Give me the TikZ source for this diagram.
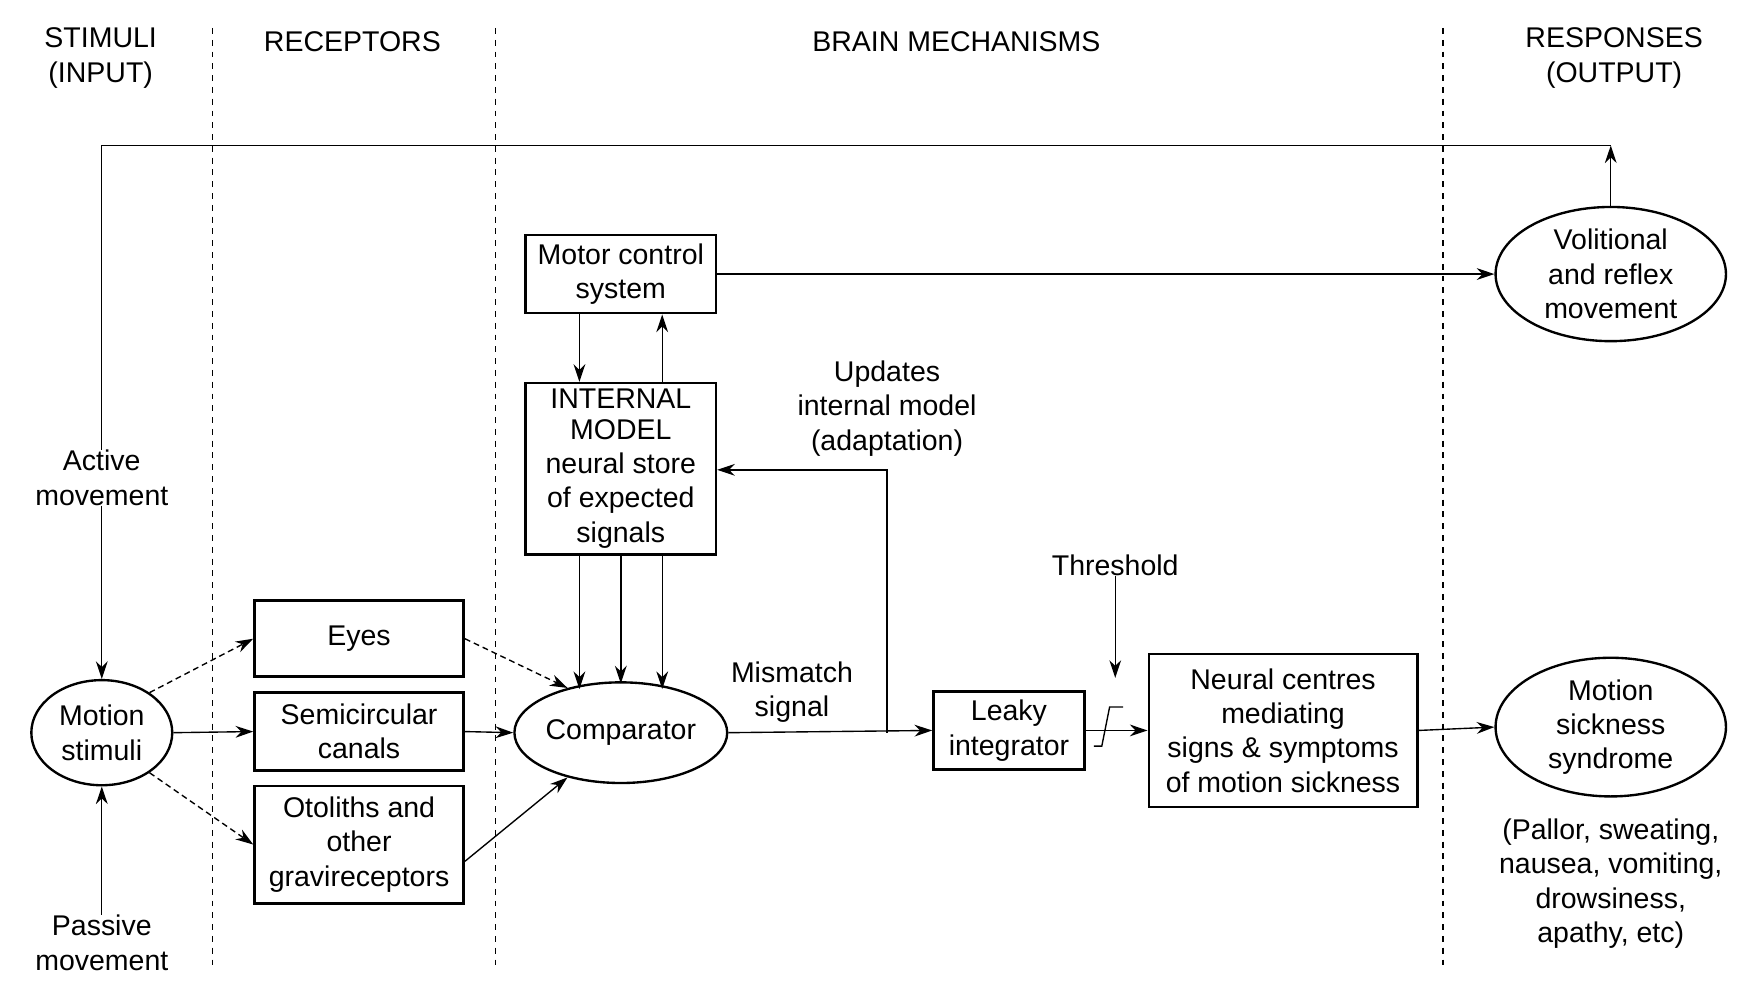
\documentclass[tikz,border=0pt]{standalone}
\usepackage{fontspec}
\setmainfont{Liberation Sans}
\usetikzlibrary{arrows.meta,shapes.geometric}
\begin{document}
\begin{tikzpicture}[x=0.02cm,y=-0.02cm,
  every node/.style={font=\fontsize{14.5}{17.5}\selectfont,align=center,inner sep=0pt},
  box/.style={draw,line width=1.3pt},
  ell/.style={draw,ellipse,line width=1.2pt},
  dv/.style={dashed,line width=0.7pt},
  ar/.style={-{Stealth[length=9pt,width=6pt]},line width=0.7pt},
  dar/.style={ar,densely dashed}]
\useasboundingbox (0,0) rectangle (1560,893);
% headers
\node (h1) at (90,52) {STIMULI\\(INPUT)};
\node (h2) at (315,37) {RECEPTORS};
\node (h3) at (855,37) {BRAIN MECHANISMS};
\node (h4) at (1443,52) {RESPONSES\\(OUTPUT)};
\foreach \x/\n in {190/a,443/b,1290/c}{\coordinate (t\n) at (\x,25); \coordinate (b\n) at (\x,868); \draw[dv] (t\n)--(b\n);}
% nodes
\node[ell,minimum width=2.52cm,minimum height=1.88cm] (ms) at (91,655) {Motion\\stimuli};
\node (act) at (91,427) {Active\\movement};
\node (pas) at (91,843) {Passive\\movement};
\node[box,minimum width=3.74cm,minimum height=1.36cm] (eyes) at (321,571) {Eyes};
\node[box,minimum width=3.74cm,minimum height=1.4cm] (sc) at (321,654) {Semicircular\\canals};
\node[box,minimum width=3.74cm,minimum height=2.1cm] (oto) at (321,755) {Otoliths and\\other\\gravireceptors};
\node[ell,minimum width=3.32cm,minimum height=1.8cm] (comp) at (555,655) {Comparator};
\node[box,minimum width=3.4cm,minimum height=1.4cm] (mc) at (555,245) {Motor control\\system};
\node[box,minimum width=3.4cm,minimum height=3.06cm] (im) at (555,419) {INTERNAL\\[-2pt]MODEL\\neural store\\of expected\\signals};
\node (upd) at (793,365) {Updates\\internal model\\(adaptation)};
\node (mis) at (708,619) {Mismatch\\signal};
\node[box,minimum width=2.7cm,minimum height=1.4cm] (leaky) at (902,653) {Leaky\\integrator};
\node (thr) at (997,505) {Threshold};
\node[box,minimum width=4.8cm,minimum height=2.74cm] (nc) at (1147,653) {Neural centres\\mediating\\signs \& symptoms\\of motion sickness};
\node[ell,minimum width=4.12cm,minimum height=2.4cm] (vol) at (1440,245) {Volitional\\and reflex\\movement};
\node[ell,minimum width=4.12cm,minimum height=2.48cm] (mss) at (1440,650) {Motion\\sickness\\syndrome};
\node (list) at (1440,790) {(Pallor, sweating,\\nausea, vomiting,\\drowsiness,\\apathy, etc)};
% top loop
\coordinate (c1) at (91,130); \coordinate (c2) at (1440,130);
\draw[line width=0.7pt] (act.north) -- (c1) -- (c2);
\draw[ar] (vol.north) -- (c2);
\draw[ar] (act.south) -- (ms.north);
\draw[ar] (pas.north) -- (ms.south);
% receptors
\draw[dar] (ms.40) -- (eyes.west);
\draw[ar] (ms.east) -- (sc.west);
\draw[dar] (ms.-40) -- (oto.west);
\draw[dar] (eyes.east) -- (comp.140);
\draw[ar] (sc.east) -- (comp.west);
\draw[ar] ([yshift=-0.3cm]oto.east) -- (comp.-140);
% motor / model
\draw[ar] ([xshift=-0.74cm]mc.south) -- ([xshift=-0.74cm]im.north);
\draw[ar] ([xshift=0.74cm]im.north) -- ([xshift=0.74cm]mc.south);
\coordinate (k1) at (518,616); \coordinate (k2) at (555,611); \coordinate (k3) at (592,616);
\draw[ar] (k1 |- im.south) -- (k1);
\draw[ar] (im.south) -- (k2);
\draw[ar] (k3 |- im.south) -- (k3);
\draw[ar] (mc.east) -- (vol.west);
% comparator out
\coordinate (br) at (793,655); \coordinate (bt) at (793,420);
\draw[ar] (comp.east) -- (leaky.west);
\draw[ar] (br) -- (bt) -- (bt -| im.east);
% threshold
\coordinate (s1) at (978,667); \coordinate (s2) at (985,667); \coordinate (s3) at (992,632); \coordinate (s4) at (1004,632);
\draw[ar] (leaky.east) -- (nc.west);
\draw[line width=0.7pt] (s1)--(s2)--(s3)--(s4);
\coordinate (ta) at (997,606);
\draw[ar] (thr.south) -- (ta);
\draw[ar] (nc.east) -- (mss.west);
\end{tikzpicture}
\end{document}
